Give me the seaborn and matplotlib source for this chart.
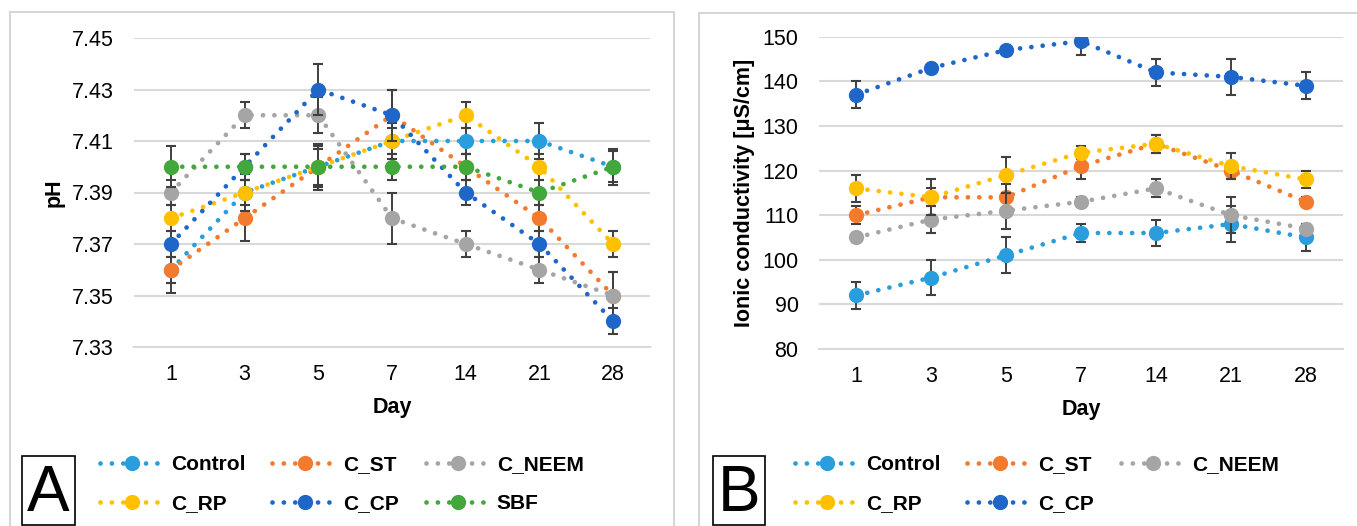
import matplotlib
matplotlib.use("Agg")
import matplotlib.pyplot as plt
from matplotlib.lines import Line2D
from matplotlib.patches import Rectangle
import seaborn as sns
import pandas as pd

days = ["1", "3", "5", "7", "14", "21", "28"]

# panel A - pH
ph_control = [7.36, 7.39, 7.40, 7.41, 7.41, 7.41, 7.40]
ph_control_err = [0.005, 0.005, 0.007, 0.005, 0.005, 0.007, 0.006]
ph_st = [7.36, 7.38, 7.40, 7.42, 7.40, 7.38, 7.35]
ph_st_err = [0.009, 0.009, 0.008, 0.01, 0.005, 0.005, 0.009]
ph_neem = [7.39, 7.42, 7.42, 7.38, 7.37, 7.36, 7.35]
ph_neem_err = [0.005, 0.005, 0.007, 0.01, 0.005, 0.005, 0.009]
ph_rp = [7.38, 7.39, 7.40, 7.41, 7.42, 7.40, 7.37]
ph_rp_err = [0.005, 0.007, 0.008, 0.007, 0.005, 0.005, 0.005]
ph_cp = [7.37, 7.40, 7.43, 7.42, 7.39, 7.37, 7.34]
ph_cp_err = [0.005, 0.005, 0.01, 0.01, 0.005, 0.005, 0.005]
ph_sbf = [7.40, 7.40, 7.40, 7.40, 7.40, 7.39, 7.40]
ph_sbf_err = [0.008, 0.005, 0.009, 0.005, 0.005, 0.005, 0.007]

# panel B - ionic conductivity
ic_control = [92, 96, 101, 106, 106, 108, 105]
ic_control_err = [3, 4, 4, 2, 3, 4, 3]
ic_st = [110, 114, 114, 121, 126, 120, 113]
ic_st_err = [2, 2, 3, 3, 2, 2, 1]
ic_neem = [105, 109, 111, 113, 116, 110, 107]
ic_neem_err = [1, 3, 4, 1, 2, 4, 1]
ic_rp = [116, 114, 119, 124, 126, 121, 118]
ic_rp_err = [3, 4, 4, 1.5, 2, 3, 2]
ic_cp = [137, 143, 147, 149, 142, 141, 139]
ic_cp_err = [3, 0.5, 0.5, 3, 3, 4, 3]

colors = {
    "Control": "#2A9DDC",
    "C_ST": "#F47A2E",
    "C_NEEM": "#A5A5A5",
    "C_RP": "#FFC000",
    "C_CP": "#1F66C9",
    "SBF": "#43A83B",
}

sns.set_style("white")
plt.rcParams["font.family"] = ["Liberation Sans", "DejaVu Sans"]
plt.rcParams["text.color"] = "black"
plt.rcParams["axes.labelcolor"] = "black"
plt.rcParams["xtick.color"] = "black"
plt.rcParams["ytick.color"] = "black"

DOTS = (0, (0.01, 2.4))
GRID = "#D9D9D9"
LW = 3.4
MS = 11


def draw_panel(ax, series, ylim, yticks, ylabel, yfmt):
    for i, (name, vals, err) in enumerate(series):
        z = 3 + i * 0.1
        df = pd.DataFrame({"pos": range(len(days)), "val": vals})
        ax.errorbar(df["pos"], df["val"], yerr=err, fmt="none", ecolor="#404040",
                    elinewidth=1.4, capsize=3.4, capthick=1.5, zorder=z)
        sns.lineplot(data=df, x="pos", y="val", ax=ax, color=colors[name],
                     linewidth=LW, linestyle=DOTS, dash_capstyle="round",
                     marker="o", markersize=MS, markeredgewidth=0,
                     zorder=z + 0.05, legend=False)
    ax.set_xlim(-0.5, len(days) - 0.5)
    ax.set_ylim(*ylim)
    ax.set_yticks(yticks)
    ax.set_yticklabels([yfmt.format(v) for v in yticks])
    ax.set_xticks(range(len(days)))
    ax.set_xticklabels(days)
    ax.set_xticks([i - 0.5 for i in range(len(days) + 1)], minor=True)
    ax.tick_params(axis="x", which="major", length=0, pad=12, labelsize=15.5, labelcolor="black")
    ax.tick_params(axis="x", which="minor", length=4.5, width=1.2, color=GRID, direction="out")
    ax.tick_params(axis="y", length=0, pad=14.5, labelsize=15.5, labelcolor="black")
    ax.yaxis.grid(True, color=GRID, linewidth=1.5)
    ax.set_axisbelow(True)
    for s in ["left", "right", "top"]:
        ax.spines[s].set_visible(False)
    ax.spines["bottom"].set_color(GRID)
    ax.spines["bottom"].set_linewidth(1.5)
    ax.set_xlabel("Day", fontsize=15.5, fontweight="bold", labelpad=9, color="black")
    ax.set_ylabel(ylabel, fontsize=15.5, fontweight="bold", labelpad=5, color="black")


def legend_handles(names):
    return [Line2D([], [], color=colors[n], linewidth=LW, linestyle=DOTS,
                   dash_capstyle="round", marker="o", markersize=MS,
                   markeredgewidth=0) for n in names]


W, H = 1357, 526
fig = plt.figure(figsize=(W / 100, H / 100), dpi=100)

# panel frames
fig.add_artist(Rectangle((10 / W, -0.05), 664 / W, 1.05 - 12 / H, transform=fig.transFigure,
                         fill=False, edgecolor="#D6D6D6", linewidth=1.5))
fig.add_artist(Rectangle((699.5 / W, -0.05), 700 / W, 1.05 - 13 / H, transform=fig.transFigure,
                         fill=False, edgecolor="#D6D6D6", linewidth=1.5))

axA = fig.add_axes([134 / W, 1 - 347 / H, 516 / W, 309 / H])
draw_panel(axA, [("Control", ph_control, ph_control_err),
                 ("C_ST", ph_st, ph_st_err),
                 ("C_NEEM", ph_neem, ph_neem_err),
                 ("C_RP", ph_rp, ph_rp_err),
                 ("C_CP", ph_cp, ph_cp_err),
                 ("SBF", ph_sbf, ph_sbf_err)],
           (7.33, 7.45), [7.33, 7.35, 7.37, 7.39, 7.41, 7.43, 7.45], "pH", "{:.2f}")

axB = fig.add_axes([818.7 / W, 1 - 349 / H, 524.5 / W, 312.3 / H])
draw_panel(axB, [("Control", ic_control, ic_control_err),
                 ("C_ST", ic_st, ic_st_err),
                 ("C_NEEM", ic_neem, ic_neem_err),
                 ("C_RP", ic_rp, ic_rp_err),
                 ("C_CP", ic_cp, ic_cp_err)],
           (80, 150), [80, 90, 100, 110, 120, 130, 140, 150], "Ionic conductivity [\u03bcS/cm]", "{:.0f}")

# legends, column-major order so rows read across
legA = ["Control", "C_RP", "C_ST", "C_CP", "C_NEEM", "SBF"]
legB = ["Control", "C_RP", "C_ST", "C_CP", "C_NEEM"]
for names, x0 in [(legA, 100), (legB, 795)]:
    leg = fig.legend(legend_handles(names), names, loc="upper left",
                     bbox_to_anchor=(x0 / W, 1 - 455 / H), ncol=3, frameon=False,
                     borderpad=0, borderaxespad=0, handlelength=3.1, handletextpad=0.3,
                     columnspacing=1.3, labelspacing=0.95,
                     prop={"size": 15, "weight": "bold"})
    for t in leg.get_texts():
        t.set_color("black")

# panel letters
for letter, x0, x1 in [("A", 21.7, 74.6), ("B", 712.5, 765.4)]:
    fig.add_artist(Rectangle((x0 / W, 1 - 525 / H), (x1 - x0) / W, 69 / H,
                             transform=fig.transFigure, fill=False,
                             edgecolor="black", linewidth=1.2))
    fig.text((x0 + x1) / 2 / W, 1 - 494 / H, letter, fontsize=46,
             ha="center", va="center", color="black")

fig.savefig("out.png", dpi=100)
